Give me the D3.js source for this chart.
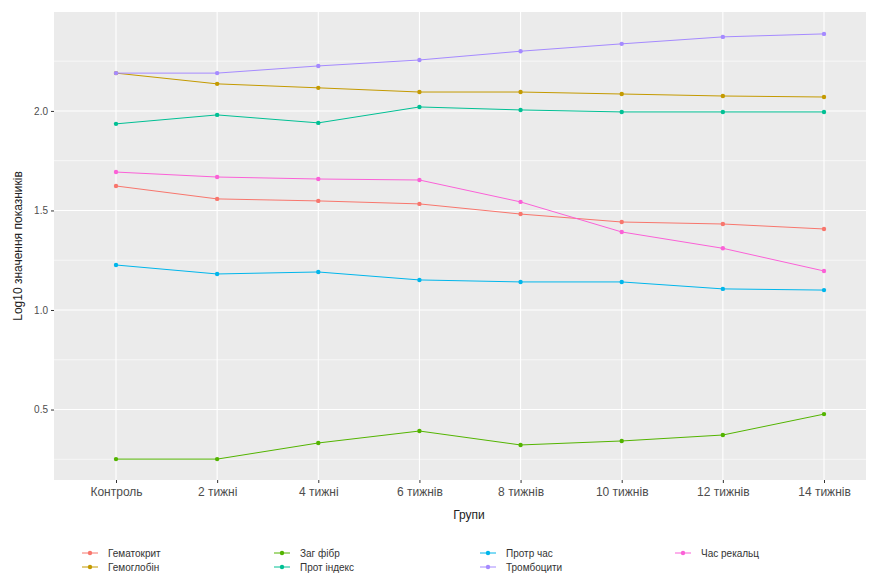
<!DOCTYPE html>
<meta charset="utf-8">
<head>
 <title>Log10 значення показників</title>
</head>

<style>
body { margin: 0; background: #fff; }
text { font-family: "Liberation Sans", Arial, sans-serif; }
</style>

<body>
 <div id="content">
   <svg width="871" height="584"></svg>
 </div>

 <script src="https://d3js.org/d3.v7.min.js"></script>
 <script>
var width = 871, height = 584

// groups on the x axis
var groups = ["Контроль", "2 тижні", "4 тижні", "6 тижнів", "8 тижнів", "10 тижнів", "12 тижнів", "14 тижнів"]

// series names (legend order) and colours
var seriesNames = ["Гематокрит", "Гемоглобін", "Заг фібр", "Прот індекс", "Протр час", "Тромбоцити", "Час рекальц"]
var seriesColors = ["#F8766D", "#C49A00", "#53B400", "#00C094", "#00B6EB", "#A58AFF", "#FB61D7"]

// log10 values
var hematocrit = [1.623, 1.558, 1.548, 1.533, 1.482, 1.442, 1.432, 1.407]
var hemoglobin = [2.190, 2.136, 2.116, 2.095, 2.095, 2.085, 2.075, 2.070]
var fibrinogen = [0.251, 0.251, 0.332, 0.392, 0.322, 0.342, 0.372, 0.477]
var protIndex  = [1.935, 1.980, 1.940, 2.020, 2.005, 1.995, 1.995, 1.995]
var protTime   = [1.226, 1.181, 1.191, 1.151, 1.141, 1.141, 1.106, 1.100]
var platelets  = [2.190, 2.190, 2.226, 2.256, 2.300, 2.337, 2.372, 2.387]
var recalcTime = [1.693, 1.668, 1.658, 1.653, 1.543, 1.392, 1.310, 1.196]

var seriesValues = [hematocrit, hemoglobin, fibrinogen, protIndex, protTime, platelets, recalcTime]

var yMajor = [0.5, 1.0, 1.5, 2.0]
var yMinor = [0.25, 0.75, 1.25, 1.75, 2.25]

// panel box (window.top is reserved, so own names)
var panelL = 54, panelR = 866, panelT = 12, panelB = 480

var x = d3.scalePoint().domain(groups).range([116, 824])
var y = d3.scaleLinear().domain([0.146, 2.497]).range([panelB, panelT])
var color = d3.scaleOrdinal().domain(seriesNames).range(seriesColors)

var svg = d3.select('svg')

// panel background and grid
svg.append('rect')
  .attr('x', panelL).attr('y', panelT)
  .attr('width', panelR - panelL).attr('height', panelB - panelT)
  .attr('fill', '#EBEBEB')

svg.selectAll('line.minor')
  .data(yMinor)
  .enter().append('line')
  .attr('class', 'minor')
  .attr('x1', panelL).attr('x2', panelR)
  .attr('y1', function(d) { return y(d) })
  .attr('y2', function(d) { return y(d) })
  .attr('stroke', '#fff').attr('stroke-width', 0.6)

svg.selectAll('line.major')
  .data(yMajor)
  .enter().append('line')
  .attr('class', 'major')
  .attr('x1', panelL).attr('x2', panelR)
  .attr('y1', function(d) { return y(d) })
  .attr('y2', function(d) { return y(d) })
  .attr('stroke', '#fff').attr('stroke-width', 1.1)

svg.selectAll('line.vgrid')
  .data(groups)
  .enter().append('line')
  .attr('class', 'vgrid')
  .attr('x1', function(d) { return x(d) })
  .attr('x2', function(d) { return x(d) })
  .attr('y1', panelT).attr('y2', panelB)
  .attr('stroke', '#fff').attr('stroke-width', 1.1)

// axes
var yAxis = svg.append('g')
  .attr('transform', 'translate(' + panelL + ',0)')
  .call(d3.axisLeft(y).tickValues(yMajor).tickFormat(d3.format('.1f')).tickSize(3).tickPadding(3))
yAxis.select('.domain').remove()
yAxis.selectAll('line').attr('stroke', '#333')
yAxis.selectAll('text').attr('fill', '#4D4D4D').style('font-size', '10px')

var xAxis = svg.append('g')
  .attr('transform', 'translate(0,' + panelB + ')')
  .call(d3.axisBottom(x).tickSize(3).tickPadding(4))
xAxis.select('.domain').remove()
xAxis.selectAll('line').attr('stroke', '#333')
xAxis.selectAll('text').attr('fill', '#4D4D4D').style('font-size', '12px')

// axis titles
svg.append('text')
  .attr('x', (panelL + 884) / 2).attr('y', 519)
  .attr('text-anchor', 'middle')
  .style('font-size', '12px').attr('fill', '#222')
  .text('Групи')

svg.append('text')
  .attr('transform', 'translate(22,' + ((panelT + panelB) / 2) + ') rotate(-90)')
  .attr('text-anchor', 'middle')
  .style('font-size', '12px').attr('fill', '#222')
  .text('Log10 значення показників')

// lines and points
var line = d3.line()
  .x(function(d, i) { return x(groups[i]) })
  .y(function(d) { return y(d) })

var series = svg.selectAll('g.series')
  .data(seriesNames)
  .enter().append('g')
  .attr('class', 'series')

series.append('path')
  .attr('d', function(d, i) { return line(seriesValues[i]) })
  .attr('fill', 'none')
  .attr('stroke', function(d) { return color(d) })
  .attr('stroke-width', 1)

series.each(function(name, i) {
  d3.select(this).selectAll('circle')
    .data(seriesValues[i])
    .enter().append('circle')
    .attr('cx', function(d, j) { return x(groups[j]) })
    .attr('cy', function(d) { return y(d) })
    .attr('r', 2.2)
    .attr('fill', color(name))
})

// legend, filled column by column (2 rows)
var colX = [90, 282, 488, 683]
var rowY = [553, 567]

var legend = svg.selectAll('g.legend')
  .data(seriesNames)
  .enter().append('g')
  .attr('class', 'legend')
  .attr('transform', function(d, i) {
    return 'translate(' + colX[Math.floor(i / 2)] + ',' + rowY[i % 2] + ')'
  })

legend.append('line')
  .attr('x1', -8).attr('x2', 8)
  .attr('stroke', function(d) { return color(d) })
  .attr('stroke-width', 1)

legend.append('circle')
  .attr('r', 2.2)
  .attr('fill', function(d) { return color(d) })

legend.append('text')
  .attr('x', 18).attr('dy', '0.35em')
  .style('font-size', '10px').attr('fill', '#333')
  .text(function(d) { return d })
 </script>
</body>
</html>
